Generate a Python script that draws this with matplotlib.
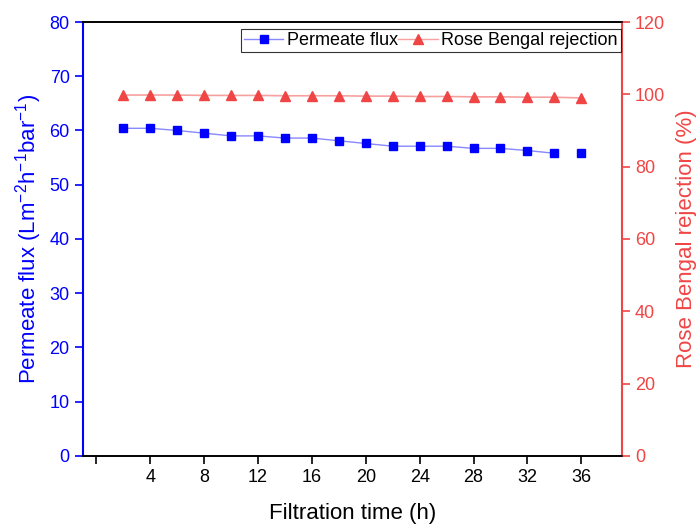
import matplotlib
matplotlib.use('Agg')
import matplotlib.pyplot as plt
import numpy as np

plt.rcParams['font.family'] = ['Liberation Sans', 'DejaVu Sans']
plt.rcParams['mathtext.fontset'] = 'custom'
plt.rcParams['mathtext.rm'] = 'Liberation Sans'
plt.rcParams['mathtext.it'] = 'Liberation Sans'
plt.rcParams['mathtext.default'] = 'regular'

time_h = [2, 4, 6, 8, 10, 12, 14, 16, 18, 20, 22, 24, 26, 28, 30, 32, 34, 36]
flux = [60.4, 60.4, 60.0, 59.5, 59.0, 59.0, 58.6, 58.6, 58.1, 57.6,
        57.1, 57.1, 57.1, 56.7, 56.7, 56.3, 55.8, 55.8]
rejection = [99.8, 99.8, 99.8, 99.7, 99.7, 99.7, 99.6, 99.6, 99.6, 99.5,
             99.5, 99.4, 99.4, 99.3, 99.3, 99.2, 99.2, 99.0]
xticks = [0, 4, 8, 12, 16, 20, 24, 28, 32, 36]
xticklabels = ['', '4', '8', '12', '16', '20', '24', '28', '32', '36']

blue = '#0000ff'
red = '#f04545'

fig = plt.figure(figsize=(6.97, 5.24), dpi=100)
ax = fig.add_axes([0.119, 0.13, 0.773, 0.828])
ax2 = ax.twinx()

# flux: line stops before the last point
ax.plot(time_h[:-1], flux[:-1], color='#8888ff', lw=1, zorder=2)
ax.plot(time_h, flux, ls='none', marker='s', ms=6, color=blue, zorder=3)
ax2.plot(time_h, rejection, color='#f7a0a0', lw=1.2, marker='^', ms=7.5,
         mfc=red, mec=red)

h1 = plt.Line2D([], [], color='#8888ff', lw=1, marker='s', ms=6, mfc=blue, mec=blue)
h2 = plt.Line2D([], [], color='#f7a0a0', lw=1, marker='^', ms=7.5, mfc=red, mec=red)

ax.set_xlim(-1, 39)
ax.set_ylim(0, 80)
ax2.set_ylim(0, 120)
ax.set_xticks(xticks)
ax.set_xticklabels(xticklabels)
ax.set_yticks(np.arange(0, 81, 10))
ax2.set_yticks(np.arange(0, 121, 20))

ax.tick_params(axis='x', direction='out', length=6, width=1.2, labelsize=13, colors='black')
ax.tick_params(axis='y', direction='out', length=6, width=1.2, labelsize=13, colors=blue)
ax2.tick_params(axis='y', direction='out', length=6, width=1.2, labelsize=13, colors=red)

ax.spines['left'].set_color(blue)
ax.spines['left'].set_linewidth(1.5)
ax2.spines['left'].set_visible(False)
ax2.spines['right'].set_color(red)
ax2.spines['right'].set_linewidth(1.5)
ax.spines['right'].set_visible(False)
for s in ['top', 'bottom']:
    ax.spines[s].set_linewidth(1.2)
    ax2.spines[s].set_linewidth(1.2)

ax.set_xlabel('Filtration time (h)', fontsize=16, labelpad=12)
ax.set_ylabel('Permeate flux (Lm$^{-2}$h$^{-1}$bar$^{-1}$)', fontsize=16, color=blue, labelpad=4)
ax2.set_ylabel('Rose Bengal rejection (%)', fontsize=16, color=red, labelpad=8)

leg = ax2.legend([h1, h2], ['Permeate flux', 'Rose Bengal rejection'], ncol=2,
                 loc='upper right', bbox_to_anchor=(0.998, 0.983), fontsize=13,
                 frameon=True, fancybox=False, edgecolor='black', handlelength=2.2,
                 handletextpad=0.2, columnspacing=0.0, borderpad=0.15, borderaxespad=0)
leg.get_frame().set_linewidth(0.8)

fig.savefig('out.png', dpi=100)
